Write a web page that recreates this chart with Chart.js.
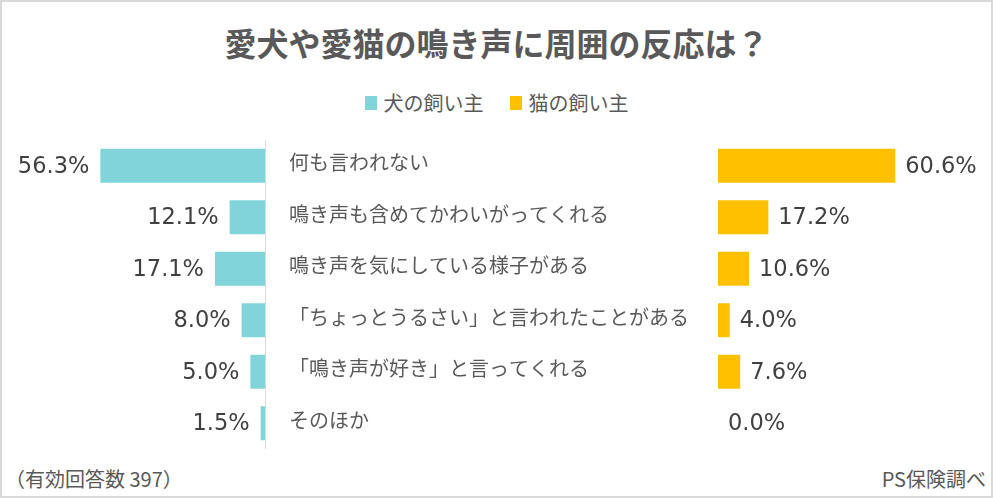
<!DOCTYPE html>
<html lang="ja">
<head>
<meta charset="utf-8">
<script src="https://cdn.jsdelivr.net/npm/chart.js@4/dist/chart.umd.min.js"></script>
<style>
  html, body { margin: 0; padding: 0; background: #fff; }
  #frame { position: relative; width: 993px; height: 498px; box-sizing: border-box; border: 2px solid #d9d9d9; overflow: hidden; }
  .txt { position: absolute; font-family: 'Noto Sans CJK JP', sans-serif; color: #595959; white-space: nowrap; line-height: 1; }
  #title { left: 0; width: 100%; text-align: center; top: 24px; font-size: 32px; font-weight: bold; }
  #legend { left: 0; width: 100%; top: 91px; display: flex; justify-content: center; font-size: 20px; }
  .lg { display: inline-flex; align-items: center; margin: 0 13px; }
  .sw { display: inline-block; width: 12px; height: 14px; margin-right: 7px; }
  #note { left: 3px; top: 467px; font-size: 20px; }
  #src { right: 5px; top: 467px; font-size: 20px; }
  canvas { position: absolute; }
</style>
</head>
<body>
<div id="frame">
  <div id="title" class="txt"></div>
  <div id="legend" class="txt"></div>
  <canvas id="cL" width="266" height="309" style="left:-2px;top:138px;"></canvas>
  <canvas id="cR" width="713" height="309" style="left:278px;top:138px;"></canvas>
  <div id="note" class="txt"></div>
  <div id="src" class="txt"></div>
</div>
<script>
const titleText = '愛犬や愛猫の鳴き声に周囲の反応は？';
const seriesNames = ['犬の飼い主', '猫の飼い主'];
const categories = [
  '何も言われない',
  '鳴き声も含めてかわいがってくれる',
  '鳴き声を気にしている様子がある',
  '「ちょっとうるさい」と言われたことがある',
  '「鳴き声が好き」と言ってくれる',
  'そのほか'
];
const dogValues = [56.3, 12.1, 17.1, 8.0, 5.0, 1.5];
const catValues = [60.6, 17.2, 10.6, 4.0, 7.6, 0.0];
const noteText = '（有効回答数 397）';
const sourceText = 'PS保険調べ';

const TEAL = '#81d5da';
const GOLD = '#ffc000';
const colors = [TEAL, GOLD];
const AXIS_MAX = 90.6;

document.getElementById('title').textContent = titleText;
document.getElementById('note').textContent = noteText;
document.getElementById('src').textContent = sourceText;
const lg = document.getElementById('legend');
seriesNames.forEach((n, i) => {
  const s = document.createElement('span'); s.className = 'lg';
  const sw = document.createElement('span'); sw.className = 'sw'; sw.style.background = colors[i];
  s.appendChild(sw); s.appendChild(document.createTextNode(n));
  lg.appendChild(s);
});

const valueLabels = {
  id: 'valueLabels',
  afterDatasetsDraw(chart, args, opts) {
    const ctx = chart.ctx;
    ctx.save();
    ctx.font = '22.5px "DejaVu Sans", sans-serif';
    ctx.fillStyle = '#404040';
    ctx.textBaseline = 'middle';
    chart.data.datasets.forEach((ds, di) => {
      const meta = chart.getDatasetMeta(di);
      meta.data.forEach((el, i) => {
        const txt = ds.data[i].toFixed(1) + '%';
        if (opts.side === 'left') {
          ctx.textAlign = 'right';
          ctx.fillText(txt, el.x - 11, el.y + 1);
        } else {
          ctx.textAlign = 'left';
          ctx.fillText(txt, el.x + 10, el.y + 1);
        }
      });
    });
    ctx.restore();
  }
};

new Chart(document.getElementById('cL'), {
  type: 'bar',
  data: { labels: categories, datasets: [{ label: seriesNames[0], data: dogValues, backgroundColor: TEAL, barPercentage: 0.66, categoryPercentage: 1 }] },
  options: {
    indexAxis: 'y', responsive: false, animation: false,
    layout: { padding: 0 },
    scales: {
      x: { reverse: true, min: 0, max: AXIS_MAX, display: false },
      y: { position: 'right', grid: { display: false, drawTicks: false }, border: { display: true, color: '#d9d9d9', width: 1 }, ticks: { display: false },
           afterFit(s) { s.width = 1; s.paddingTop = 0; s.paddingBottom = 0; } }
    },
    plugins: { legend: { display: false }, tooltip: { enabled: false }, valueLabels: { side: 'left' } }
  },
  plugins: [valueLabels]
});

new Chart(document.getElementById('cR'), {
  type: 'bar',
  data: { labels: categories, datasets: [{ label: seriesNames[1], data: catValues, backgroundColor: GOLD, barPercentage: 0.66, categoryPercentage: 1 }] },
  options: {
    indexAxis: 'y', responsive: false, animation: false,
    layout: { padding: { left: 9, right: 10, top: 0, bottom: 0 } },
    scales: {
      x: { min: 0, max: AXIS_MAX, display: false },
      y: { position: 'left', grid: { display: false, drawTicks: false }, border: { display: false },
           ticks: { crossAlign: 'far', padding: 0, labelOffset: -3, color: '#595959', font: { family: "'Noto Sans CJK JP', sans-serif", size: 20 } },
           afterFit(s) { s.width = 429; s.paddingTop = 0; s.paddingBottom = 0; } }
    },
    plugins: { legend: { display: false }, tooltip: { enabled: false }, valueLabels: { side: 'right' } }
  },
  plugins: [valueLabels]
});
</script>
</body>
</html>
